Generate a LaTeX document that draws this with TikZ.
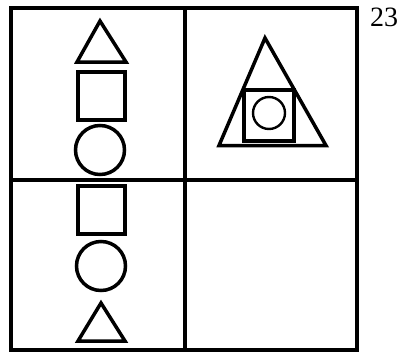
\documentclass[tikz,border=0pt]{standalone}
\usepackage{fontspec}
\setmainfont{Liberation Serif}
\begin{document}
\begin{tikzpicture}[x=1pt,y=-1pt,
  frame/.style={line width=3.2pt,line join=miter},
  shp/.style={line width=3.5pt,line join=miter}]
\useasboundingbox (0,0) rectangle (403,353);
% grid
\draw[frame] (11,8) rectangle (357,350);
\draw[frame] (185,8) -- (185,350);
\draw[frame] (11,180) -- (357,180);
% top-left
\draw[shp] (100,21) -- (126,62) -- (77,62) -- cycle;
\draw[shp] (78,72) rectangle (125,120);
\draw[shp] (100,150) circle (24.5);
% top-right
\draw[shp] (265,38) -- (326,145.5) -- (219,145.5) -- cycle;
\draw[shp] (244,90) rectangle (294,141);
\draw[line width=2.4pt] (269,113) circle (16);
% bottom-left
\draw[shp] (78,186) rectangle (125,234);
\draw[shp] (101,266) circle (24.5);
\draw[shp] (101,303) -- (125,341) -- (78,341) -- cycle;
% label
\node[anchor=base west,inner sep=0pt,font=\fontsize{28}{28}\selectfont] (lbl) at (370,27) {23};
\end{tikzpicture}
\end{document}
